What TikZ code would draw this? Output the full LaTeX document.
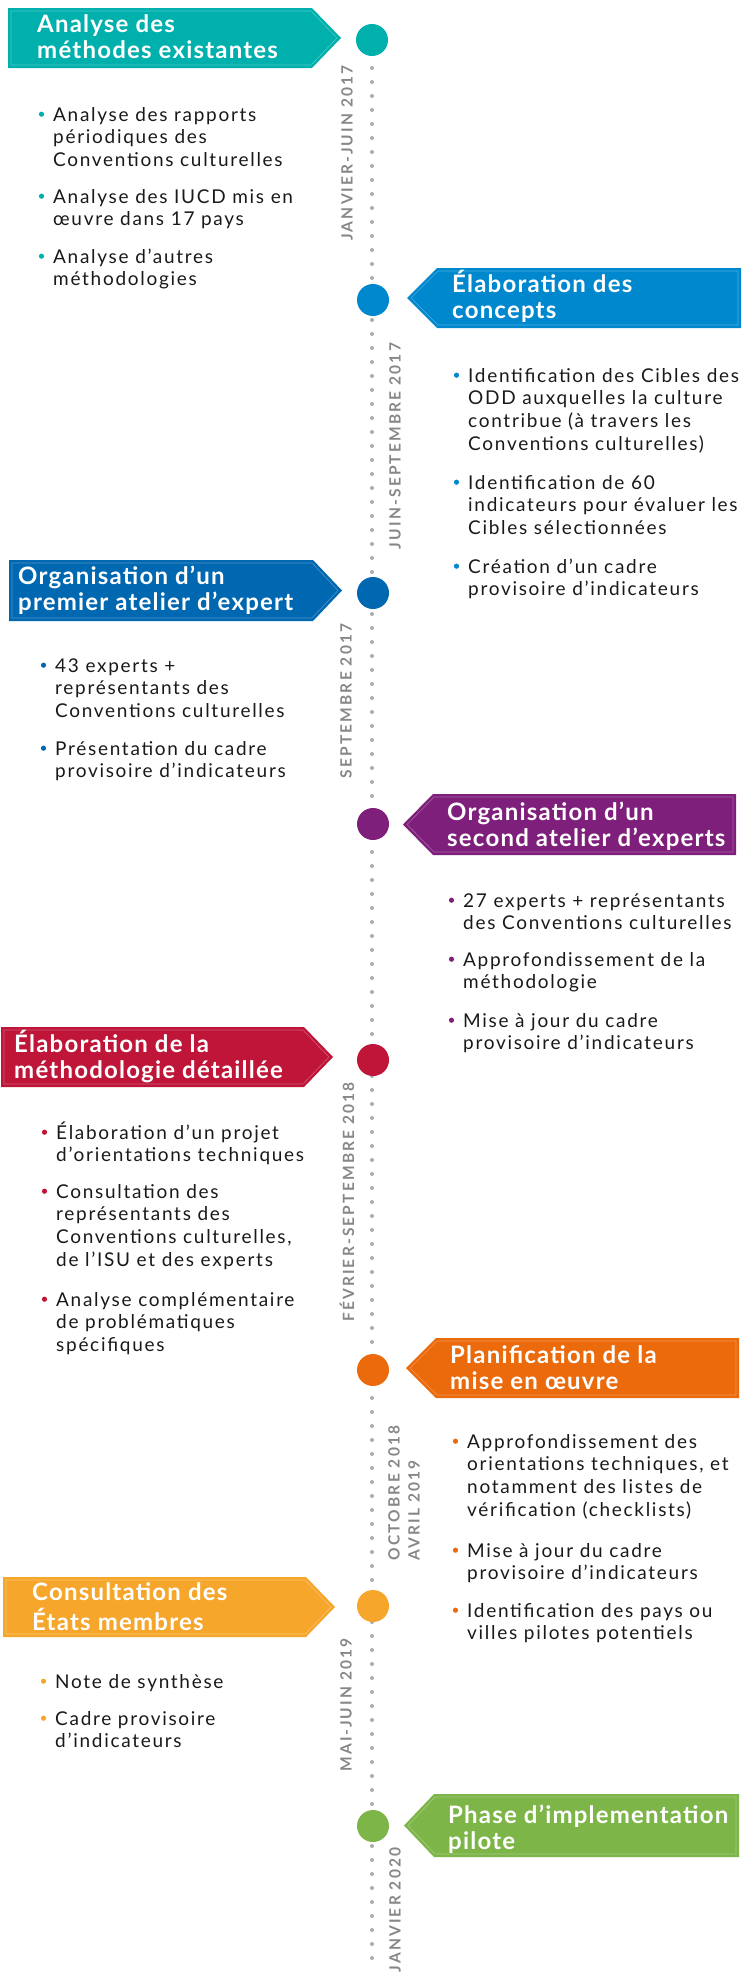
\documentclass[tikz,border=0pt]{standalone}
\usepackage{fontspec}
\setmainfont{Lato}[LetterSpace=9]
\newfontfamily\stagefont{Lato}[LetterSpace=5]
\newfontfamily\periodfont{Lato}[LetterSpace=14]
\usepackage{tikz}
\usetikzlibrary{calc}

\definecolor{tealA}{HTML}{00B0AD}
\definecolor{blueB}{HTML}{0088CE}
\definecolor{blueC}{HTML}{0067B1}
\definecolor{purpleD}{HTML}{7F1F7C}
\definecolor{redE}{HTML}{BE1538}
\definecolor{orangeF}{HTML}{EA6A0C}
\definecolor{yellowG}{HTML}{F6A62B}
\definecolor{greenH}{HTML}{7DB548}
\definecolor{periodgray}{HTML}{878787}

% flag pointing right: colour, left x, tip x, top y, height
\newcommand{\flagR}[5]{%
  \fill[#1] (#2,#4) -- (#3-29,#4) -- (#3,#4+#5/2) -- (#3-29,#4+#5) -- (#2,#4+#5) -- cycle;
  \draw[white,opacity=0.3,line width=0.6pt] (#2+3,#4+3) -- (#3-30,#4+3) -- (#3-4,#4+#5/2) -- (#3-30,#4+#5-3) -- (#2+3,#4+#5-3) -- cycle;}
% flag pointing left: colour, tip x, right x, top y, height
\newcommand{\flagL}[5]{%
  \fill[#1] (#2,#4+#5/2) -- (#2+30,#4) -- (#3,#4) -- (#3,#4+#5) -- (#2+30,#4+#5) -- cycle;
  \draw[white,opacity=0.3,line width=0.6pt] (#2+4,#4+#5/2) -- (#2+31,#4+3) -- (#3-3,#4+3) -- (#3-3,#4+#5-3) -- (#2+31,#4+#5-3) -- cycle;}
% lines stacked from the first baseline down
\newcommand{\rows}[1]{\begin{tabular}[t]{@{}l@{}}#1\end{tabular}}
% coloured bullet in front of an item node
\newcommand{\itemdot}[2]{\fill[#1] ($(#2.base west)+(-11.5,-6.8)$) circle (2.6);}

\begin{document}
\begin{tikzpicture}[x=1pt,y=-1pt,
  stage/.style={anchor=base west,inner sep=0pt,text=white,font={\stagefont\fontsize{24}{26}\selectfont\bfseries}},
  bullettext/.style={anchor=base west,inner sep=0pt,text=black!90,font={\fontsize{19}{22.7}\selectfont}},
  period/.style={rotate=90,align=left,inner sep=0pt,text=periodgray,font={\periodfont\bfseries\fontsize{15.5}{20}\selectfont}},
  milestone/.style={circle,minimum size=32pt,inner sep=0pt},
  timeline/.style={gray!66,line width=4pt,line cap=round,dash pattern=on 0pt off 14pt}]
  \useasboundingbox (0,0) rectangle (747,1981);

  % Dotted time axis
  \coordinate (tstart) at (372,40);
  \coordinate (tend) at (372,1972);
  \draw[timeline] (tstart) -- (tend);

  % Milestones
  \node[milestone,fill=tealA] (m1) at (372,40) {};
  \node[milestone,fill=blueB] (m2) at (373,300) {};
  \node[milestone,fill=blueC] (m3) at (373,593) {};
  \node[milestone,fill=purpleD] (m4) at (373,824) {};
  \node[milestone,fill=redE] (m5) at (373,1060) {};
  \node[milestone,fill=orangeF] (m6) at (373,1370) {};
  \node[milestone,fill=yellowG] (m7) at (373,1606) {};
  \node[milestone,fill=greenH] (m8) at (373,1826) {};

  % Periods
  \node[period] (p1) at (347,153) {JANVIER-JUIN 2017};
  \node[period] (p2) at (395,446) {JUIN-SEPTEMBRE 2017};
  \node[period] (p3) at (346,701) {SEPTEMBRE 2017};
  \node[period] (p4) at (347,1202) {FÉVRIER-SEPTEMBRE 2018};
  \node[period] (p5) at (404,1493) {OCTOBRE 2018\\AVRIL 2019};
  \node[period] (p6) at (346,1705) {MAI-JUIN 2019};
  \node[period] (p7) at (395,1910) {JANVIER 2020};

  % Stage 1
  \flagR{tealA}{8}{341}{8}{60}
  \node[stage] (s1) at (37,32) {\rows{Analyse des\\méthodes existantes}};
  \node[bullettext] (a1) at (53,121) {\rows{Analyse des rapports\\périodiques des\\Conventions culturelles}};
  \node[bullettext] (a2) at (53,203) {\rows{Analyse des IUCD mis en\\œuvre dans 17 pays}};
  \node[bullettext] (a3) at (53,263) {\rows{Analyse d’autres\\méthodologies}};
  \itemdot{tealA}{a1} \itemdot{tealA}{a2} \itemdot{tealA}{a3}

  % Stage 2
  \flagL{blueB}{407}{741}{268}{60}
  \node[stage] (s2) at (452,292) {\rows{Élaboration des\\concepts}};
  \node[bullettext] (b1) at (468,382) {\rows{Identification des Cibles des\\ODD auxquelles la culture\\contribue (à travers les\\Conventions culturelles)}};
  \node[bullettext] (b2) at (468,489) {\rows{Identification de 60\\indicateurs pour évaluer les\\Cibles sélectionnées}};
  \node[bullettext] (b3) at (468,573) {\rows{Création d’un cadre\\provisoire d'indicateurs}};
  \itemdot{blueB}{b1} \itemdot{blueB}{b2} \itemdot{blueB}{b3}

  % Stage 3
  \flagR{blueC}{9}{342}{560}{61}
  \node[stage] (s3) at (18,584) {\rows{Organisation d’un\\premier atelier d’expert}};
  \node[bullettext] (c1) at (55,672) {\rows{43 experts +\\représentants des\\Conventions culturelles}};
  \node[bullettext] (c2) at (55,755) {\rows{Présentation du cadre\\provisoire d'indicateurs}};
  \itemdot{blueC}{c1} \itemdot{blueC}{c2}

  % Stage 4
  \flagL{purpleD}{403}{736}{794}{61}
  \node[stage] (s4) at (447,820) {\rows{Organisation d’un\\second atelier d’experts}};
  \node[bullettext] (e1) at (463,907) {\rows{27 experts + représentants\\des Conventions culturelles}};
  \node[bullettext] (e2) at (463,966) {\rows{Approfondissement de la\\méthodologie}};
  \node[bullettext] (e3) at (463,1027) {\rows{Mise à jour du cadre\\provisoire d'indicateurs}};
  \itemdot{purpleD}{e1} \itemdot{purpleD}{e2} \itemdot{purpleD}{e3}

  % Stage 5
  \flagR{redE}{1}{333}{1027}{60}
  \node[stage] (s5) at (14,1052) {\rows{Élaboration de la\\méthodologie détaillée}};
  \node[bullettext] (f1) at (56,1139) {\rows{Élaboration d’un projet\\d'orientations techniques}};
  \node[bullettext] (f2) at (56,1198) {\rows{Consultation des\\représentants des\\Conventions culturelles,\\de l’ISU et des experts}};
  \node[bullettext] (f3) at (56,1306) {\rows{Analyse complémentaire\\de problématiques\\spécifiques}};
  \itemdot{redE}{f1} \itemdot{redE}{f2} \itemdot{redE}{f3}

  % Stage 6
  \flagL{orangeF}{406}{739}{1338}{60}
  \node[stage] (s6) at (450,1363) {\rows{Planification de la\\mise en œuvre}};
  \node[bullettext] (g1) at (467,1448) {\rows{Approfondissement des\\orientations techniques, et\\notamment des listes de\\vérification (checklists)}};
  \node[bullettext] (g2) at (467,1557) {\rows{Mise à jour du cadre\\provisoire d'indicateurs}};
  \node[bullettext] (g3) at (467,1617) {\rows{Identification des pays ou\\villes pilotes potentiels}};
  \itemdot{orangeF}{g1} \itemdot{orangeF}{g2} \itemdot{orangeF}{g3}

  % Stage 7
  \flagR{yellowG}{3}{335}{1577}{60}
  \node[stage] (s7) at (32,1600) {\rows{Consultation des\\États membres}};
  \node[bullettext] (h1) at (55,1688) {\rows{Note de synthèse}};
  \node[bullettext] (h2) at (55,1725) {\rows{Cadre provisoire\\d'indicateurs}};
  \itemdot{yellowG}{h1} \itemdot{yellowG}{h2}

  % Stage 8
  \flagL{greenH}{404}{739}{1794}{63}
  \node[stage] (s8) at (448,1823) {\rows{Phase d’implementation\\pilote}};
\end{tikzpicture}
\end{document}
